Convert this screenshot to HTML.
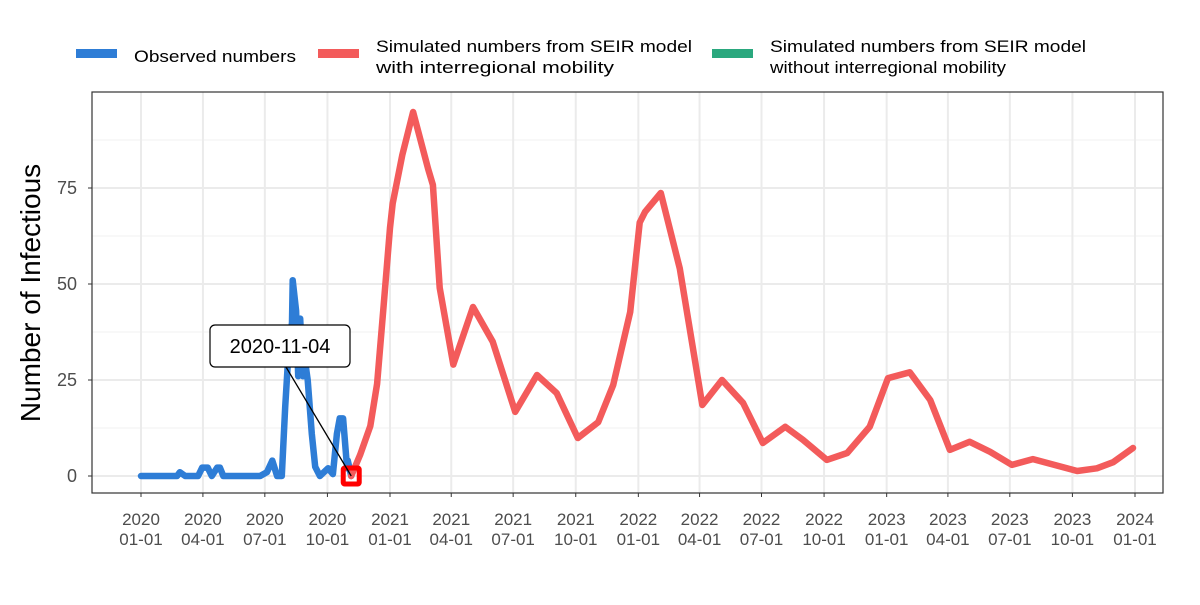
<!DOCTYPE html>
<html><head><meta charset="utf-8"><style>
body{margin:0;background:#fff;font-family:"Liberation Sans",Arial,sans-serif}
svg text{font-family:"Liberation Sans",Arial,sans-serif}
</style></head><body>
<svg id="c" width="1200" height="600" xmlns="http://www.w3.org/2000/svg">
<rect width="1200" height="600" fill="#fff"/>
<g id="legend">
 <g>
  <rect x="76" y="49" width="41" height="9" fill="#2e7dd6"/>
  <text x="134" y="62" font-size="17" fill="#000" textLength="162" lengthAdjust="spacingAndGlyphs">Observed numbers</text>
 </g>
 <g>
  <rect x="318" y="49" width="41" height="9" fill="#f35b5b"/>
  <text x="376" y="52" font-size="17" fill="#000" textLength="316" lengthAdjust="spacingAndGlyphs">Simulated numbers from SEIR model</text>
  <text x="376" y="73" font-size="17" fill="#000" textLength="238" lengthAdjust="spacingAndGlyphs">with interregional mobility</text>
 </g>
 <g>
  <rect x="712" y="49" width="41" height="9" fill="#2aa87e"/>
  <text x="770" y="52" font-size="17" fill="#000" textLength="316" lengthAdjust="spacingAndGlyphs">Simulated numbers from SEIR model</text>
  <text x="770" y="73" font-size="17" fill="#000" textLength="236" lengthAdjust="spacingAndGlyphs">without interregional mobility</text>
 </g>
</g>
<g id="grid"></g>
<g id="axes"></g>
<g id="series"></g>
<rect x="92" y="92" width="1071" height="401" fill="none" stroke="#333" stroke-width="1.2"/>
<text transform="translate(40,293) rotate(-90)" text-anchor="middle" font-size="28" fill="#000">Number of Infectious</text>
</svg>
<script>
const obsDays=[0,53,57,65,84,90,98,104,112,116,121,175,185,193,200,207,212,216,222,223,228,231,234,238,241,245,251,256,263,275,282,288,292,297,303,304,309];
const obsVals=[0,0,1,0,0,2.2,2.2,0,2.2,2.2,0,0,1,4,0,0,18,30,40,51,43,26,41,26,30,25,11,2.4,0,2,0.5,11,15,15,2,4,0];
const simDays=[309,322,337,347,356,366,370,384,400,422,429,439,459,488,517,550,582,611,642,672,694,719,733,741,764,792,825,854,885,914,947,973,1008,1038,1071,1098,1130,1160,1189,1218,1248,1280,1311,1376,1405,1429,1458];
const simVals=[0,5.5,13,24,43,64.6,71,83.6,94.8,80,75.8,49,29,44,35,16.7,26.3,21.6,9.9,14,23.7,42.7,66,68.8,73.7,54,18.5,25,19,8.6,12.8,9.4,4.2,6,12.8,25.5,27,19.8,6.8,8.9,6.3,2.9,4.4,1.3,2,3.6,7.3];
const xTickDays=[0,91,182,274,366,456,547,639,731,821,912,1004,1096,1186,1277,1369,1461];
const xTickYears=["2020","2020","2020","2020","2021","2021","2021","2021","2022","2022","2022","2022","2023","2023","2023","2023","2024"];
const xTickMD=["01-01","04-01","07-01","10-01","01-01","04-01","07-01","10-01","01-01","04-01","07-01","10-01","01-01","04-01","07-01","10-01","01-01"];
const yTicks=[0,25,50,75];
const markDay=309, markVal=0, markLabel="2020-11-04";

const NS="http://www.w3.org/2000/svg";
const X=d=>141+d*(994/1461);
const Y=v=>476-v*3.84;
function mk(tag,attrs,parent){const e=document.createElementNS(NS,tag);for(const k in attrs)e.setAttribute(k,attrs[k]);parent.appendChild(e);return e;}
const grid=document.getElementById('grid'),axes=document.getElementById('axes'),series=document.getElementById('series');
for(let i=0;i<yTicks.length;i++){const v=yTicks[i]+12.5;const l=mk('line',{x1:92,x2:1163,y1:Y(v),y2:Y(v),stroke:'#f2f2f2','stroke-width':1},grid);

}
yTicks.forEach(v=>{const l=mk('line',{x1:92,x2:1163,y1:Y(v),y2:Y(v),stroke:'#ebebeb','stroke-width':2},grid);


const t=mk('text',{x:77,y:Y(v)+6,'text-anchor':'end','font-size':18,fill:'#4d4d4d'},axes);t.textContent=v;


const tk=mk('line',{x1:88,x2:92,y1:Y(v),y2:Y(v),stroke:'#333','stroke-width':1},axes);

});
xTickDays.forEach((d,i)=>{const x=X(d);const l=mk('line',{x1:x,x2:x,y1:92,y2:493,stroke:'#ebebeb','stroke-width':2},grid);


const tk=mk('line',{x1:x,x2:x,y1:493,y2:497,stroke:'#333','stroke-width':1},axes);


const t=mk('text',{x:x,y:525,'text-anchor':'middle','font-size':17,fill:'#4d4d4d'},axes);t.textContent=xTickYears[i];


const t2=mk('text',{x:x,y:545,'text-anchor':'middle','font-size':17,fill:'#4d4d4d'},axes);t2.textContent=xTickMD[i];

});
function pts(ds,vs){return ds.map((d,i)=>X(d).toFixed(1)+','+Y(vs[i]).toFixed(1)).join(' ');}
const obs=mk('polyline',{points:pts(obsDays,obsVals),fill:'none',stroke:'#2e7dd6','stroke-width':6.5,'stroke-linejoin':'round','stroke-linecap':'round'},series);


const sim=mk('polyline',{points:pts(simDays,simVals),fill:'none',stroke:'#f35b5b','stroke-width':6.5,'stroke-linejoin':'round','stroke-linecap':'round'},series);


const mx=X(markDay),my=Y(markVal);
const sq=mk('rect',{x:mx-8,y:my-8,width:16,height:16,fill:'none',stroke:'#ff0000','stroke-width':5,rx:1.5},series);


const ln=mk('line',{x1:283,y1:362,x2:mx,y2:my,stroke:'#000','stroke-width':1.3},series);


const bx=mk('rect',{x:210,y:325,width:140,height:42,rx:5,fill:'#fff',stroke:'#000','stroke-width':1.2},series);


const lt=mk('text',{x:280,y:353,'text-anchor':'middle','font-size':20,fill:'#000'},series);lt.textContent=markLabel;


</script>
</body></html>
